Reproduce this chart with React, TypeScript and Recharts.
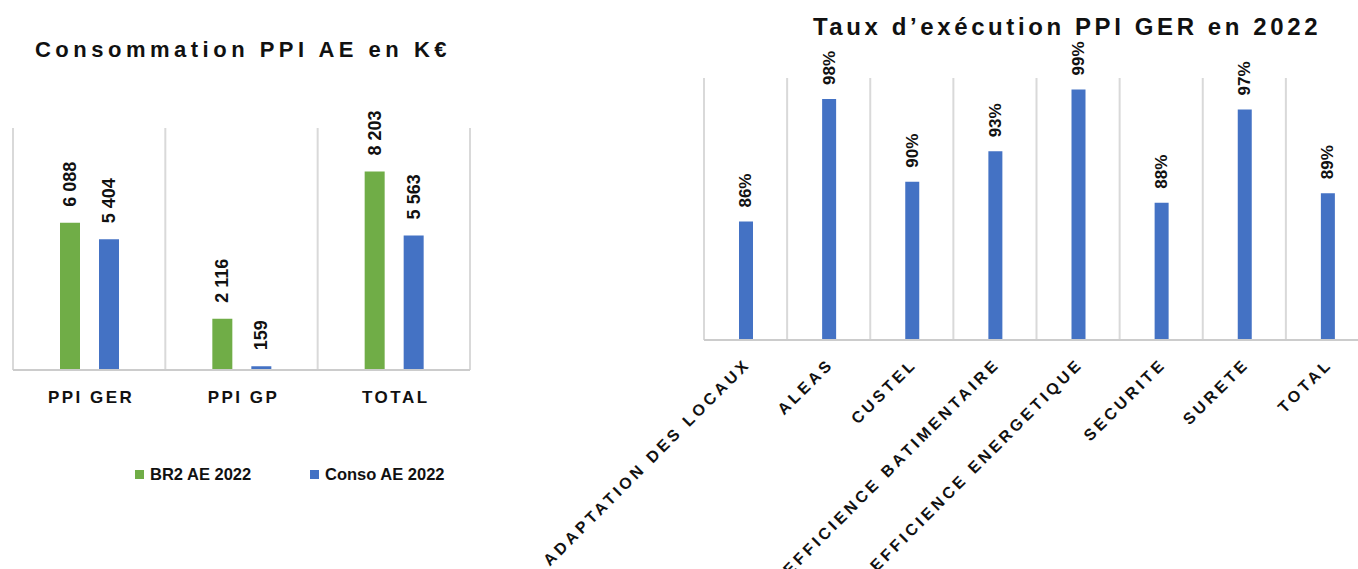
import { BarChart, Bar, XAxis, YAxis, CartesianGrid, LabelList, Legend } from 'recharts';

const CONSO_CATEGORIES = ['PPI GER', 'PPI GP', 'TOTAL'];
const BR2_AE_2022 = [6088, 2116, 8203];
const CONSO_AE_2022 = [5404, 159, 5563];

const TAUX_CATEGORIES = [
  'ADAPTATION DES LOCAUX',
  'ALEAS',
  'CUSTEL',
  'EFFICIENCE BATIMENTAIRE',
  'EFFICIENCE ENERGETIQUE',
  'SECURITE',
  'SURETE',
  'TOTAL',
];
const TAUX_VALUES = [86.3, 98.0, 90.1, 93.0, 98.9, 88.1, 97.0, 89.0];

const GREEN = '#70ad47';
const BLUE = '#4472c4';
const GRID = '#d9d9d9';
const FONT = "'Liberation Sans', Arial, sans-serif";

const consoData = CONSO_CATEGORIES.map((name, i) => ({ name, br2: BR2_AE_2022[i], conso: CONSO_AE_2022[i] }));
const tauxData = TAUX_CATEGORIES.map((name, i) => ({ name, taux: TAUX_VALUES[i] }));

const thousands = (v: number) => String(v).replace(/\B(?=(\d{3})+(?!\d))/g, ' ');
const percent = (v: number) => `${Math.round(v)}%`;

// vertical lines on category borders, not on centres
const borders = (n: number) => (props: any) => {
  const o = props.offset;
  return Array.from({ length: n + 1 }, (_, i) => o.left + (o.width * i) / n);
};

const VerticalLabel = (props: any) => {
  const { fmt, size, gap } = props;
  const vb = props.viewBox || {};
  const x = Number(props.x ?? vb.x);
  const y = Number(props.y ?? vb.y);
  const w = Number(props.width ?? vb.width);
  const cx = x + w / 2;
  const ty = y - gap;
  return (
    <text
      x={cx}
      y={ty}
      transform={`rotate(-90 ${cx} ${ty})`}
      textAnchor="start"
      dominantBaseline="central"
      fontFamily={FONT}
      fontWeight="bold"
      fontSize={size}
      fill="#111"
    >
      {fmt(props.value)}
    </text>
  );
};

const FlatTick = (props: any) => (
  <text
    x={props.x + 2}
    y={props.y + 25}
    textAnchor="middle"
    fontFamily={FONT}
    fontWeight="bold"
    fontSize={17}
    letterSpacing={2.5}
    fill="#111"
  >
    {props.payload.value}
  </text>
);

const SlantTick = (props: any) => {
  const x = props.x + 6;
  const y = props.y + 17;
  return (
    <text
      x={x}
      y={y}
      transform={`rotate(-45 ${x} ${y})`}
      textAnchor="end"
      fontFamily={FONT}
      fontWeight="bold"
      fontSize={16}
      letterSpacing={3.5}
      fill="#111"
    >
      {props.payload.value}
    </text>
  );
};

const ConsoLegend = () => (
  <div style={{ display: 'flex', fontFamily: FONT, fontWeight: 'bold', fontSize: 16.5, color: '#111' }}>
    {[
      { label: 'BR2 AE 2022', color: GREEN },
      { label: 'Conso AE 2022', color: BLUE },
    ].map((item) => (
      <div key={item.label} style={{ width: 175, display: 'flex', alignItems: 'center' }}>
        <span style={{ width: 9, height: 9, background: item.color, marginRight: 6, display: 'inline-block' }} />
        <span>{item.label}</span>
      </div>
    ))}
  </div>
);

const titleStyle = {
  position: 'absolute' as const,
  fontFamily: FONT,
  fontWeight: 'bold' as const,
  color: '#111',
  textAlign: 'center' as const,
  whiteSpace: 'nowrap' as const,
};

export default function App() {
  return (
    <div style={{ position: 'fixed', left: 0, top: 0, width: 1358, height: 569, overflow: 'hidden', background: '#fff' }}>
      <div style={{ ...titleStyle, left: 2, width: 482, top: 36, fontSize: 22, letterSpacing: 4.5, lineHeight: '28px' }}>
        Consommation PPI AE en K€
      </div>
      <div style={{ position: 'absolute', left: 0, top: 0 }}>
        <BarChart width={480} height={569} data={consoData} margin={{ top: 128, right: 10, bottom: 0, left: 13 }} barGap={19}>
          <CartesianGrid horizontal={false} stroke={GRID} strokeWidth={2} verticalCoordinatesGenerator={borders(3)} />
          <XAxis dataKey="name" height={199} tickLine={false} axisLine={{ stroke: '#cccccc', strokeWidth: 2 }} tick={<FlatTick />} interval={0} />
          <YAxis hide domain={[0, 10000]} />
          <Legend
            layout="horizontal"
            verticalAlign="middle"
            align="center"
            wrapperStyle={{ top: 465, left: 135 }}
            content={() => <ConsoLegend />}
          />
          <Bar dataKey="br2" name="BR2 AE 2022" fill={GREEN} barSize={20} isAnimationActive={false}>
            <LabelList dataKey="br2" content={(p: any) => <VerticalLabel {...p} fmt={thousands} size={18} gap={16} />} />
          </Bar>
          <Bar dataKey="conso" name="Conso AE 2022" fill={BLUE} barSize={20} isAnimationActive={false}>
            <LabelList dataKey="conso" content={(p: any) => <VerticalLabel {...p} fmt={thousands} size={18} gap={16} />} />
          </Bar>
        </BarChart>
      </div>

      <div style={{ ...titleStyle, left: 780, width: 574, top: 12, fontSize: 24, letterSpacing: 3.6, lineHeight: '30px' }}>
        Taux d’exécution PPI GER en 2022
      </div>
      <div style={{ position: 'absolute', left: 540, top: 0 }}>
        <BarChart width={840} height={569} data={tauxData} margin={{ top: 78, right: 11, bottom: 0, left: 164 }}>
          <CartesianGrid horizontal={false} stroke={GRID} strokeWidth={2} verticalCoordinatesGenerator={borders(8)} />
          <XAxis dataKey="name" height={229} tickLine={false} axisLine={{ stroke: '#cccccc', strokeWidth: 2 }} tick={<SlantTick />} interval={0} />
          <YAxis hide domain={[75, 100]} allowDataOverflow />
          <Bar dataKey="taux" name="Taux d’exécution" fill={BLUE} barSize={14} isAnimationActive={false}>
            <LabelList dataKey="taux" content={(p: any) => <VerticalLabel {...p} fmt={percent} size={17} gap={14} />} />
          </Bar>
        </BarChart>
      </div>
    </div>
  );
}
